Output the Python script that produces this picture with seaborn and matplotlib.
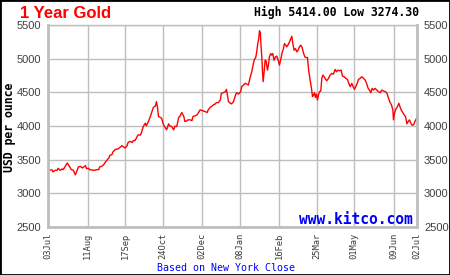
import matplotlib
matplotlib.use("Agg")
import matplotlib.pyplot as plt
from matplotlib.patches import Rectangle
import seaborn as sns
import pandas as pd

# ---------------- data ----------------
start_date = "2025-07-03"

day_offsets = [
    0, 4, 5, 7, 9, 10, 12, 14, 15, 17, 19, 21, 23, 25, 27, 28, 30, 32, 34, 37,
    38, 40, 41, 43, 45, 46, 48, 50, 51, 53, 55, 56, 58, 60, 61, 63, 64, 66, 68, 69,
    71, 73, 74, 76, 78, 79, 81, 83, 84, 86, 88, 89, 91, 92, 94, 96, 97, 99, 101, 102,
    104, 106, 107, 108, 109, 111, 112, 114, 115, 117, 119, 120, 122, 124, 125, 127, 129, 130, 132, 134,
    135, 137, 138, 140, 142, 143, 145, 147, 148, 150, 152, 153, 155, 157, 158, 160, 162, 163, 165, 166,
    168, 170, 171, 173, 175, 176, 177, 178, 180, 181, 183, 185, 186, 188, 190,
    191.1, 192.8, 194.4, 196.1, 197.7, 199.4, 201.0, 202.6, 203.6, 204.9, 205.9, 206.9, 207.9, 208.6,
    209.5, 210.2, 210.9, 211.5, 212.2, 213.2, 214.2, 215.1, 216.5, 217.4, 218.4, 219.7, 220.7, 221.7,
    223.0, 224.4, 225.7, 227.0, 228.3, 229.6, 230.9, 232.3, 233.2, 234.6, 235.5, 237.2, 238.8, 240.5,
    241.5, 242.8, 244.1, 245.4, 246.7, 248.0, 249.4, 250.7, 252.0, 253.3, 254.6, 255.9, 257.3, 258.6,
    259.9, 260.9, 261.9, 262.8, 263.8, 264.8, 265.8, 266.8, 267.8, 269.1, 270.1, 271.1, 272.4, 273.7,
    275.0, 276.7, 278.3, 280.0, 281.6, 283.2, 284.6, 285.9, 287.5, 289.2, 290.5, 292.1, 293.8, 295.4,
    296.7, 298.1, 299.7, 301.0, 302.3, 303.6, 305.0, 306.3, 307.9, 309.6, 311.2, 312.9, 314.5, 315.8,
    317.1, 318.4, 319.8, 321.1, 322.7, 324.4, 326.0, 327.7, 329.3, 331.0, 332.6, 334.2, 335.9, 337.5,
    338.8, 340.2, 340.8, 341.8, 343.1, 344.4, 346.1, 347.4, 348.7, 350.0, 351.3, 352.7, 354.0, 355.3,
    356.6, 357.9, 359.2, 360.6, 361.9, 363.2, 364.0,
]

prices = [
    3347, 3347, 3318, 3342, 3342, 3372, 3342, 3362, 3352, 3401, 3451, 3401, 3352, 3342, 3274, 3313, 3392, 3401, 3377, 3411,
    3367, 3372, 3352, 3347, 3342, 3342, 3352, 3352, 3392, 3401, 3426, 3451, 3490, 3525, 3564, 3574, 3613, 3648, 3658, 3658,
    3682, 3707, 3697, 3672, 3707, 3756, 3771, 3756, 3781, 3786, 3845, 3869, 3864, 3894, 3993, 4042, 4002, 4067, 4140, 4190,
    4278, 4298, 4362, 4278, 4140, 4126, 4116, 4017, 3993, 3943, 4032, 4002, 3993, 3943, 3993, 3993, 4131, 4140, 4200, 4140,
    4067, 4076, 4091, 4091, 4081, 4140, 4150, 4165, 4190, 4239, 4229, 4224, 4214, 4200, 4239, 4278, 4298, 4313, 4328, 4347,
    4347, 4387, 4485, 4495, 4510, 4544, 4461, 4362, 4337, 4328, 4362, 4461, 4495, 4475, 4510,
    4584, 4608, 4633, 4623, 4608, 4722, 4805, 4929, 4988, 5017, 5101, 5224, 5298, 5414,
    5382, 5175, 5027, 4830, 4658, 4805, 4978, 4968, 4830, 4904, 5027, 5076, 5052, 5076,
    4978, 5027, 5037, 4978, 4904, 4988, 5086, 5150, 5224, 5200, 5175, 5214, 5273, 5332,
    5224, 5126, 5150, 5101, 5126, 5175, 5200, 5165, 5086, 5027, 5017, 5017, 4805, 4682,
    4559, 4436, 4461, 4495, 4426, 4475, 4387, 4461, 4510, 4520, 4707, 4756, 4732, 4697,
    4672, 4707, 4756, 4781, 4771, 4840, 4805, 4830, 4820, 4830, 4741, 4732, 4707, 4692,
    4633, 4584, 4633, 4584, 4544, 4584, 4633, 4692, 4707, 4732, 4707, 4682, 4623, 4559,
    4534, 4495, 4559, 4534, 4559, 4534, 4510, 4495, 4534, 4520, 4510, 4495, 4411, 4347,
    4313, 4239, 4091, 4190, 4249, 4278, 4337, 4278, 4229, 4200, 4165, 4140, 4032, 4067,
    4091, 4042, 4012, 4017, 4067, 4101, 4130,
]

tick_dates = ["2025-07-03", "2025-08-11", "2025-09-17", "2025-10-24", "2025-12-02",
              "2026-01-08", "2026-02-16", "2026-03-25", "2026-05-01", "2026-06-09", "2026-07-02"]
tick_labels = ["03Jul", "11Aug", "17Sep", "24Oct", "02Dec", "08Jan", "16Feb",
               "25Mar", "01May", "09Jun", "02Jul"]
y_ticks = [2500, 3000, 3500, 4000, 4500, 5000, 5500]

title_text = "1 Year Gold"
high_low_text = "High 5414.00 Low 3274.30"
y_label_text = "USD per ounce"
brand_text = "www.kitco.com"
footer_text = "Based on New York Close"

# ---------------- figure ----------------
df = pd.DataFrame({
    "date": pd.Timestamp(start_date) + pd.to_timedelta(day_offsets, unit="D"),
    "price": prices,
})

sns.set_style("white")
W, H = 450, 275
fig = plt.figure(figsize=(W / 100, H / 100), dpi=100)
fig.patch.set_facecolor("white")
ax = fig.add_axes([48 / W, (H - 227) / H, 369 / W, 202 / H])

sns.lineplot(data=df, x="date", y="price", ax=ax, color="#FF0000",
             linewidth=1.0, legend=False)

ax.set_xlim(pd.Timestamp(tick_dates[0]), pd.Timestamp(tick_dates[-1]))
ax.set_ylim(y_ticks[0], y_ticks[-1])
ax.set_xlabel("")
ax.set_ylabel("")

grid_col = "#BEBEBE"
ax.set_xticks(pd.to_datetime(tick_dates))
ax.set_xticklabels(tick_labels, rotation=90, family="DejaVu Sans Mono",
                   fontsize=6.3, color="#3a3a3a")
ax.set_yticks(y_ticks)
ax.set_yticklabels([str(v) for v in y_ticks], family="Liberation Sans",
                   fontsize=8, color="#404040")
ax.tick_params(axis="y", length=0, pad=5, labelleft=True, labelright=True)
ax.tick_params(axis="x", length=0, pad=4)
ax.grid(True, color=grid_col, linewidth=1.0)
ax.set_axisbelow(True)
for side in ["left", "bottom", "right"]:
    ax.spines[side].set_visible(True)
    ax.spines[side].set_color(grid_col)
    ax.spines[side].set_linewidth(2.0)
ax.spines["top"].set_visible(True)
ax.spines["top"].set_color(grid_col)
ax.spines["top"].set_linewidth(1.0)

fig.text(20 / W, 1 - 13 / H, title_text, color="#FF0000", fontweight="bold",
         fontsize=12, family="Liberation Sans", ha="left", va="center")
fig.text(419 / W, 1 - 12 / H, high_low_text, color="black", fontweight="bold",
         fontsize=8.3, family="DejaVu Sans Mono", ha="right", va="center")
fig.text(10 / W, 1 - 127 / H, y_label_text, color="black", fontweight="bold",
         fontsize=8.3, family="DejaVu Sans Mono", rotation=90, ha="center", va="center")
fig.text(413 / W, 1 - 220 / H, brand_text, color="#0000FF", fontweight="bold",
         fontsize=10.5, family="DejaVu Sans Mono", ha="right", va="center")
fig.text(226 / W, 1 - 268 / H, footer_text, color="#0000FF",
         fontsize=7.2, family="DejaVu Sans Mono", ha="center", va="center")

fig.patches.append(Rectangle((0, 0), 1, 1, transform=fig.transFigure, fill=False,
                             edgecolor="black", linewidth=2.0))

fig.savefig("out.png", dpi=100)
